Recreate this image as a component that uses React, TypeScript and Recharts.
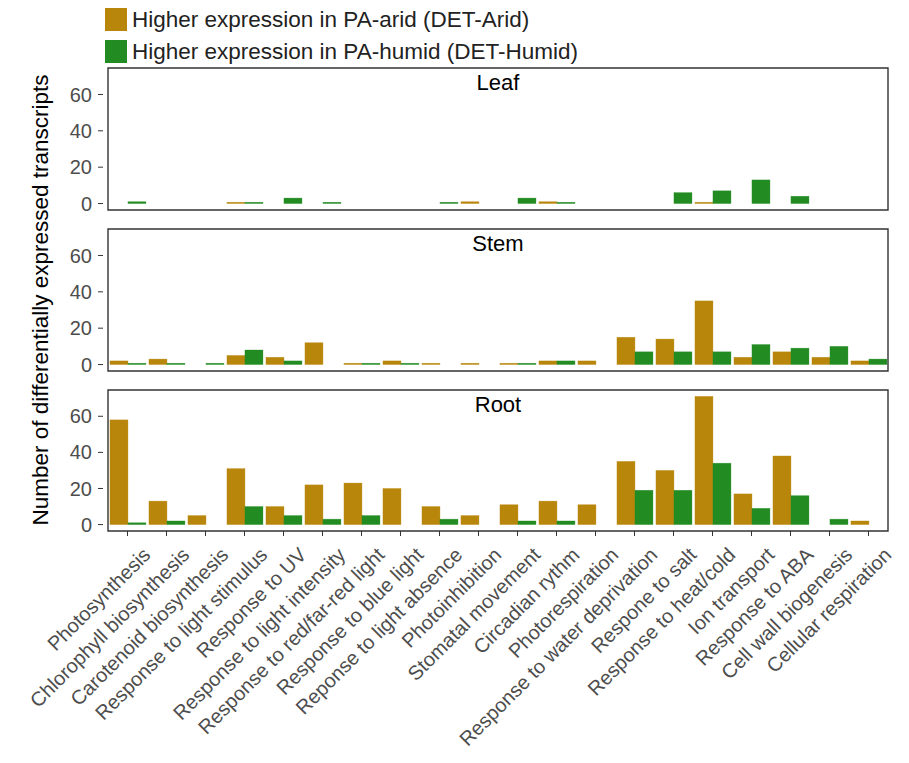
// @ts-nocheck
import { BarChart, Bar, XAxis, YAxis, ReferenceArea, Label } from "recharts";

const CATS = [
  "Photosynthesis", "Chlorophyll biosynthesis", "Carotenoid biosynthesis", "Response to light stimulus",
  "Response to UV", "Response to light intensity", "Response to red/far-red light", "Response to blue light",
  "Reponse to light absence", "Photoinhibition", "Stomatal movement", "Circadian rythm",
  "Photorespiration", "Response to water deprivation", "Respone to salt", "Response to heat/cold",
  "Ion transport", "Response to ABA", "Cell wall biogenesis", "Cellular respiration",
];

// null = no bar, 0 = empty bar (drawn as a thin line)
const leafArid  = [null, null, null, 0, null, null, null, null, null, 1, null, 1, null, null, null, 0, null, null, null, null];
const leafHumid = [1, null, null, 0, 3, 0, null, null, 0, null, 3, 0, null, null, 6, 7, 13, 4, null, null];
const stemArid  = [2, 3, null, 5, 4, 12, 0, 2, 0, 0, 0, 2, 2, 15, 14, 35, 4, 7, 4, 2];
const stemHumid = [0, 0, 0, 8, 2, null, 0, 0, null, null, 0, 2, null, 7, 7, 7, 11, 9, 10, 3];
const rootArid  = [58, 13, 5, 31, 10, 22, 23, 20, 10, 5, 11, 13, 11, 35, 30, 71, 17, 38, null, 2];
const rootHumid = [1, 2, null, 10, 5, 3, 5, null, 3, null, 2, 2, null, 19, 19, 34, 9, 16, 3, null];

const Y_TICKS = [0, 20, 40, 60];
const DOMAIN = [-3.55, 74.55];

const ARID = "#B8860B";
const HUMID = "#228B22";
const FONT = "'Liberation Sans', Arial, Helvetica, sans-serif";

const mk = (a, h) => CATS.map((c, i) => ({ cat: c, arid: a[i], humid: h[i] }));

const barShape = (key, color) => (p) => {
  if (p.payload == null || p.payload[key] == null) return null;
  const h = Math.max(p.height, 1.3);
  const y = p.y + p.height - h;
  return <rect x={p.x} y={y} width={p.width} height={h} fill={color} stroke={color} strokeOpacity={0.55} strokeWidth={0.6} />;
};

const XTick = ({ x, y, payload }) => {
  const ax = x + 14, ay = y + 8;
  return (
    <text x={ax} y={ay} dy="0.72em" textAnchor="end" fontSize={20} fill="#4d4d4d" fontFamily={FONT}
      transform={`rotate(-45, ${ax}, ${ay})`}>{payload.value}</text>
  );
};

function Panel({ title, data, top, height, bottom, showX }) {
  return (
    <div style={{ position: "absolute", left: 0, top: 0 }}>
      <BarChart width={909} height={height} data={data} barCategoryGap="5%" barGap={0}
        margin={{ top, right: 16, bottom, left: 63 }}>
        <XAxis dataKey="cat" hide={!showX} interval={0} padding={{ left: 5, right: 5 }}
          axisLine={false} tickSize={5} tickLine={{ stroke: "#333" }} height={232} tick={<XTick />} />
        <YAxis domain={DOMAIN} ticks={Y_TICKS} width={40} axisLine={false} tickSize={5} tickMargin={6}
          tickLine={{ stroke: "#333" }} tick={{ fontSize: 20, fill: "#4d4d4d", fontFamily: FONT }} />
        <Bar dataKey="arid" fill={ARID} shape={barShape("arid", ARID)} isAnimationActive={false} />
        <Bar dataKey="humid" fill={HUMID} shape={barShape("humid", HUMID)} isAnimationActive={false} />
        <ReferenceArea y1={DOMAIN[0]} y2={DOMAIN[1]} fill="none" stroke="#333" strokeWidth={1.4}>
          <Label value={title} position="insideTop" offset={6} fill="#000" fontSize={22} fontFamily={FONT} />
        </ReferenceArea>
      </BarChart>
    </div>
  );
}

export default function App() {
  return (
    <div style={{ position: "absolute", left: 0, top: 0, width: 909, height: 763, background: "#fff", fontFamily: FONT }}>
      <Panel title="Leaf" data={mk(leafArid, leafHumid)} top={68} height={220} bottom={10} />
      <Panel title="Stem" data={mk(stemArid, stemHumid)} top={229} height={380} bottom={9} />
      <Panel title="Root" data={mk(rootArid, rootHumid)} top={390} height={763} bottom={0} showX />
      <svg width={909} height={763} style={{ position: "absolute", left: 0, top: 0, pointerEvents: "none" }}>
        <text x={48} y={300} transform="rotate(-90, 48, 300)" textAnchor="middle" fontSize={22.5} fill="#000"
          fontFamily={FONT}>Number of differentially expressed transcripts</text>
      </svg>
      <div style={{ position: "absolute", left: 105, top: 8, fontSize: 22.5, color: "#222", lineHeight: "23px" }}>
        {[["Higher expression in PA-arid (DET-Arid)", ARID], ["Higher expression in PA-humid (DET-Humid)", HUMID]].map(([t, c]) => (
          <div key={t} style={{ display: "flex", alignItems: "center", marginBottom: 9 }}>
            <span style={{ width: 22, height: 23, background: c, marginRight: 5, display: "inline-block" }} />
            <span>{t}</span>
          </div>
        ))}
      </div>
    </div>
  );
}
